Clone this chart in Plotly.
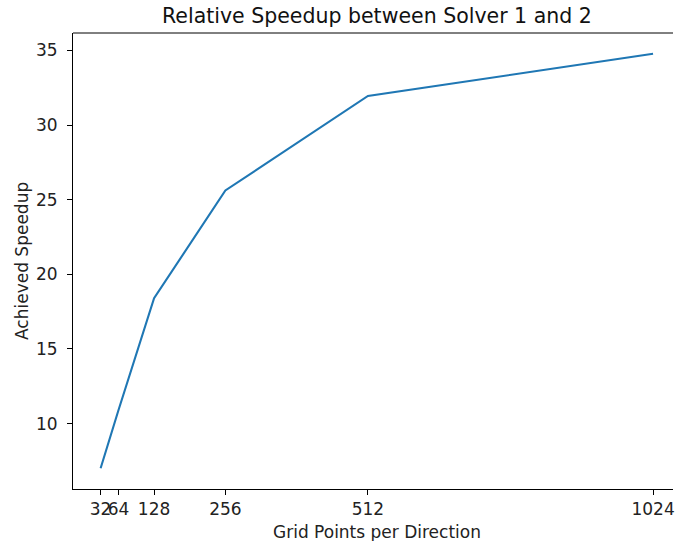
import plotly.graph_objects as go

grid_points = [32, 64, 128, 256, 512, 1024]
speedup = [7.01, 10.9, 18.4, 25.62, 31.95, 34.78]
x_tick_vals = [32, 64, 128, 256, 512, 1024]
x_tick_text = ["32", "64", "128", "256", "512", "1024"]
y_tick_vals = [10, 15, 20, 25, 30, 35]

W, H = 675, 541
L, T, B = 73, 33, 52

FONT = "DejaVu Sans"
FS = 17

fig = go.Figure()
fig.add_trace(go.Scatter(
    x=grid_points, y=speedup, mode="lines",
    line=dict(color="#1f77b4", width=2.1),
    showlegend=False, hoverinfo="x+y",
))

fig.update_layout(
    width=W, height=H,
    margin=dict(l=L, r=0, t=T, b=B, pad=0),
    paper_bgcolor="white", plot_bgcolor="white",
    font=dict(family=FONT, size=FS, color="#222"),
    showlegend=False,
)
fig.update_xaxes(
    range=[-17.6, 1059.8], showgrid=False, zeroline=False,
    showline=True, linecolor="black", linewidth=1,
    ticks="outside", ticklen=5, tickwidth=1, tickcolor="black",
    tickvals=x_tick_vals, ticktext=x_tick_text, tickangle=0,
    ticklabeloverflow="allow",
    tickfont=dict(family=FONT, size=FS, color="#222"),
)
fig.update_yaxes(
    range=[5.62, 36.17], showgrid=False, zeroline=False,
    showline=True, linecolor="black", linewidth=1,
    ticks="outside", ticklen=5, tickwidth=1, tickcolor="black",
    tickvals=y_tick_vals, ticktext=[str(v) for v in y_tick_vals],
    ticklabelstandoff=6,
    tickfont=dict(family=FONT, size=FS, color="#222"),
)
# top spine
fig.add_shape(type="line", xref="paper", yref="paper", x0=0, x1=1, y0=1, y1=1,
              line=dict(color="black", width=1))

xc = (378 - L) / (W - L)
fig.add_annotation(text="Relative Speedup between Solver 1 and 2",
                   xref="paper", yref="paper", x=xc, y=1,
                   yshift=17, xanchor="center", yanchor="middle", showarrow=False,
                   font=dict(family=FONT, size=20.5, color="#111"))
fig.add_annotation(text="Grid Points per Direction",
                   xref="paper", yref="paper", x=xc, y=0,
                   yshift=-43, xanchor="center", yanchor="middle", showarrow=False,
                   font=dict(family=FONT, size=FS, color="#222"))
fig.add_annotation(text="Achieved Speedup", textangle=-90,
                   xref="paper", yref="paper", x=0, y=0.5,
                   xshift=-(L - 22), xanchor="center", yanchor="middle", showarrow=False,
                   font=dict(family=FONT, size=FS, color="#222"))

fig.write_html("out.html")
